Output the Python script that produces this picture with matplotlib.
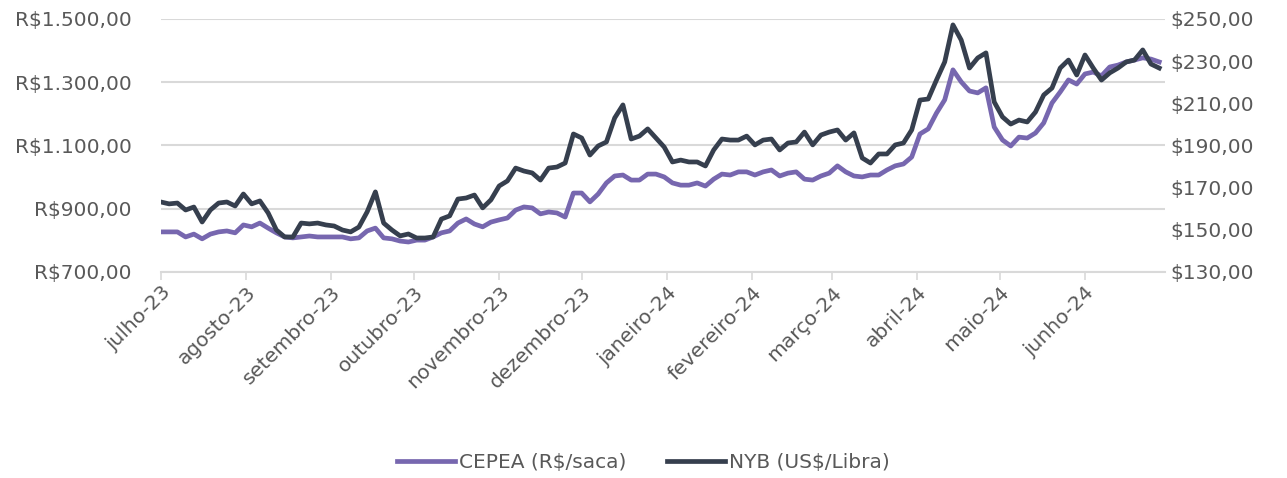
import numpy as np
import pandas as pd
import matplotlib
matplotlib.use("Agg")
import matplotlib.pyplot as plt
from matplotlib.ticker import FuncFormatter
from matplotlib.transforms import ScaledTranslation

# amostras a cada 3 dias
dates = pd.date_range("2023-07-01", periods=122, freq="3D")

cepea = [826, 826, 826, 810, 819, 804, 819, 826, 829, 823,
         848, 842, 854, 838, 823, 810, 807, 810, 813, 810,
         810, 810, 810, 804, 807, 829, 838, 807, 804, 797,
         794, 800, 800, 810, 823, 829, 854, 867, 851, 842,
         857, 864, 870, 895, 905, 902, 883, 889, 886, 873,
         949, 949, 921, 946, 981, 1003, 1006, 990, 990, 1009,
         1009, 1000, 981, 974, 974, 981, 971, 993, 1009, 1006,
         1016, 1016, 1006, 1016, 1022, 1003, 1012, 1016, 993, 990,
         1003, 1012, 1035, 1016, 1003, 1000, 1006, 1006, 1022, 1035,
         1041, 1063, 1136, 1152, 1202, 1244, 1339, 1301, 1272, 1266,
         1282, 1158, 1117, 1098, 1126, 1123, 1139, 1171, 1234, 1269,
         1307, 1294, 1326, 1332, 1320, 1348, 1354, 1364, 1370, 1377,
         1373, 1364]

nyb = [163.1, 162.2, 162.6, 159.3, 160.7, 153.6, 159.3, 162.6, 163.1, 161.2,
       166.9, 162.2, 163.6, 157.9, 149.8, 146.5, 146.5, 153.1, 152.7, 153.1,
       152.2, 151.7, 149.8, 148.9, 151.2, 158.4, 167.9, 153.1, 149.8, 147.0,
       147.9, 146.0, 146.0, 146.5, 155.0, 156.5, 164.5, 165.0, 166.4, 160.3,
       164.1, 170.7, 173.1, 179.2, 177.8, 176.9, 173.5, 179.2, 179.7, 181.6,
       195.4, 193.5, 185.4, 189.7, 191.6, 203.0, 209.2, 193.0, 194.4, 197.8,
       193.5, 189.2, 182.1, 183.0, 182.1, 182.1, 180.2, 187.8, 193.0, 192.5,
       192.5, 194.4, 190.2, 192.5, 193.0, 187.8, 191.1, 191.6, 196.3, 190.2,
       194.9, 196.3, 197.3, 192.5, 195.9, 184.0, 181.6, 185.9, 185.9, 190.2,
       191.1, 197.3, 211.5, 212.0, 221.0, 229.6, 247.2, 240.0, 226.7, 231.5,
       233.9, 210.6, 203.5, 200.1, 202.0, 201.1, 205.8, 213.9, 217.2, 226.7,
       230.5, 223.4, 232.9, 226.7, 221.0, 224.4, 226.7, 229.6, 230.5, 235.3,
       228.6, 226.7]

months = ["julho-23", "agosto-23", "setembro-23", "outubro-23", "novembro-23",
          "dezembro-23", "janeiro-24", "fevereiro-24", "março-24", "abril-24",
          "maio-24", "junho-24"]
month_starts = pd.date_range("2023-07-01", periods=12, freq="MS")

gray = "#595959"
purple = "#7767AF"
dark = "#363F4E"

plt.rcParams["font.family"] = ["DejaVu Sans"]
plt.rcParams["font.size"] = 14.5

fig = plt.figure(figsize=(12.87, 4.78), dpi=100)
ax = fig.add_axes([0.125, 0.4316, 0.78, 0.5287])
ax2 = ax.twinx()

l1, = ax.plot(dates, cepea, color=purple, lw=3.4, solid_joinstyle="round",
              label=r"CEPEA (R\$/saca)")
l2, = ax2.plot(dates, nyb, color=dark, lw=3.4, solid_joinstyle="round",
               label=r"NYB (US\$/Libra)")

ax.set_xlim(pd.Timestamp("2023-07-01"), pd.Timestamp("2024-06-30"))
ax.set_ylim(700, 1500)
ax.set_yticks([700, 900, 1100, 1300, 1500])
ax2.set_ylim(130, 250)
ax2.set_yticks([130, 150, 170, 190, 210, 230, 250])


def brl(v, pos):
    s = f"{v:,.2f}".replace(",", "X").replace(".", ",").replace("X", ".")
    return r"R\$" + s


def usd(v, pos):
    s = f"{v:,.2f}".replace(",", "X").replace(".", ",").replace("X", ".")
    return r"\$" + s


ax.yaxis.set_major_formatter(FuncFormatter(brl))
ax2.yaxis.set_major_formatter(FuncFormatter(usd))

ax.grid(axis="y", color="#D9D9D9", lw=1.5)
ax.set_axisbelow(True)

ax.set_xticks(month_starts)
ax.set_xticklabels(months, rotation=45, ha="right", rotation_mode="anchor")
shift = ScaledTranslation(5 / 72, 8 / 72, fig.dpi_scale_trans)
for lab in ax.get_xticklabels():
    lab.set_transform(lab.get_transform() + shift)

for a in (ax, ax2):
    for s in ("top", "left", "right"):
        a.spines[s].set_visible(False)
    a.spines["bottom"].set_color("#D9D9D9")
    a.spines["bottom"].set_linewidth(1.5)
ax2.spines["bottom"].set_visible(False)
ax.tick_params(axis="y", length=0, colors=gray, labelsize=14.5, pad=21)
ax2.tick_params(axis="y", length=0, colors=gray, labelsize=14.5, pad=4)
ax.tick_params(axis="x", length=6, width=1.2, color="#D9D9D9",
               labelcolor=gray, labelsize=14.5, pad=2)

fig.legend(handles=[l1, l2], loc="lower center", bbox_to_anchor=(0.5, -0.025),
           ncol=2, frameon=False, fontsize=14.5, handlelength=2.9,
           handletextpad=0.2, columnspacing=2.0, labelcolor=gray)

fig.savefig("out.png", dpi=100)
